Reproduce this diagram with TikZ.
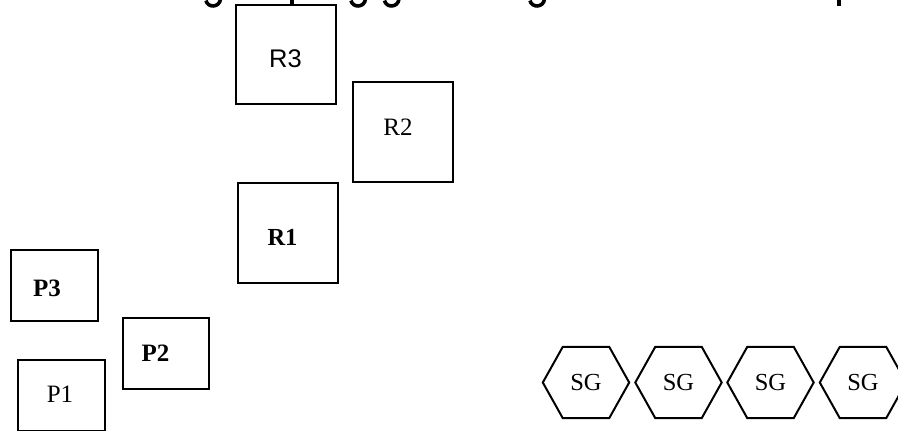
\documentclass[tikz,border=0pt]{standalone}
\usepackage{fontspec}
\setmainfont{Liberation Serif}
\setsansfont{Liberation Sans}
\begin{document}
\begin{tikzpicture}[x=1pt,y=-1pt]
\tikzset{
  sqbox/.style={draw=black, line width=2pt, inner sep=0pt, minimum width=100pt, minimum height=100pt},
  pbox/.style={sqbox, minimum width=87pt, minimum height=71pt},
  lbl/.style={inner sep=0pt, font=\fontsize{25}{30}\selectfont},
  hexbase/.style={inner sep=0pt, minimum width=86pt, minimum height=71pt, font=\fontsize{24.5}{29}\selectfont},
  hexline/.style={line width=2pt, line join=miter},
  fragstroke/.style={line width=3.6pt},
}
\useasboundingbox (0,0) rectangle (898,431);

% clipped title fragments (descenders only)
\begin{scope}
\clip (0,0) rectangle (898,431);
\foreach \gx in {213.5,358.5,392,537.5}{
  \draw[fragstroke] (\gx-7.5,0.5) .. controls (\gx-6,8) and (\gx+6,8) .. (\gx+7,-1);
}
\fill (289.5,0) rectangle (293.5,5);
\fill (836.7,0) rectangle (840.7,6);
\end{scope}

% R boxes
\node[sqbox, minimum height=99pt] (r3) at (286,54.5) {};
\node[sqbox] (r2) at (403,132) {};
\node[sqbox] (r1) at (288,233) {};
\node[lbl, font=\fontsize{25.5}{30}\selectfont\sffamily] (r3t) at (285.5,59) {R3};
\node[lbl] (r2t) at (398,127) {R2};
\node[lbl, font=\fontsize{24.5}{29}\selectfont\bfseries] (r1t) at (282.5,237) {R1};

% P boxes
\node[pbox] (p3) at (54.5,285.5) {};
\node[pbox, minimum width=86pt] (p2) at (166,353.5) {};
\node[pbox] (p1) at (61.5,395.5) {};
\node[lbl, font=\fontsize{25}{30}\selectfont\bfseries] (p3t) at (47,288) {P3};
\node[lbl, font=\fontsize{25}{30}\selectfont\bfseries] (p2t) at (155.5,353) {P2};
\node[lbl] (p1t) at (60,394) {P1};

% SG hexagons
\foreach \i/\cx in {1/586,2/678.5,3/770.5,4/863}{
  \node[hexbase] (sg\i) at (\cx,382.5) {SG};
  \draw[hexline] (sg\i.west) -- ([xshift=20pt]sg\i.north west) -- ([xshift=-20pt]sg\i.north east)
    -- (sg\i.east) -- ([xshift=-20pt]sg\i.south east) -- ([xshift=20pt]sg\i.south west) -- cycle;
}
\end{tikzpicture}
\end{document}
